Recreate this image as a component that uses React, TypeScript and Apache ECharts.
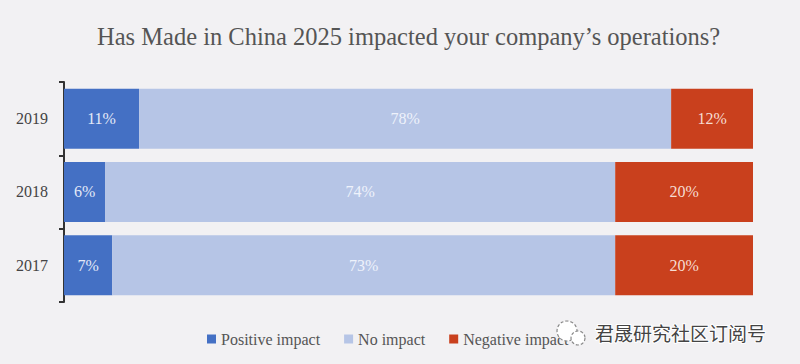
import React, { useEffect, useRef } from "react";
import * as echarts from "echarts";

const years = ["2019", "2018", "2017"];
const positive = [11, 6, 7];
const noImpact = [78, 74, 73];
const negative = [12, 20, 20];
const seriesNames = ["Positive impact", "No impact", "Negative impact"];
const titleText = "Has Made in China 2025 impacted your company\u2019s operations?";
const watermark = "君晟研究社区订阅号";

const COLORS = ["#4470C4", "#B6C5E6", "#C9401D"];
const LABEL_COLORS = ["#E3E9F7", "#EEF2FB", "#F6DDD2"];
const SERIF = "'Liberation Serif', 'DejaVu Serif', serif";

export default function App() {
  const ref = useRef<HTMLDivElement>(null);
  useEffect(() => {
    if (!ref.current) return;
    const chart = echarts.init(ref.current, null, { renderer: "svg" });
    const top0 = 82;
    const bandH = 73.3;
    const grids: any[] = [];
    const xAxes: any[] = [];
    const yAxes: any[] = [];
    const series: any[] = [];
    const rows = [positive, noImpact, negative];
    years.forEach((y, i) => {
      grids.push({ left: 64, width: 689, top: top0 + i * bandH, height: bandH });
      const total = positive[i] + noImpact[i] + negative[i];
      xAxes.push({ gridIndex: i, type: "value", min: 0, max: total, show: false });
      yAxes.push({
        gridIndex: i,
        type: "category",
        data: [y],
        axisLine: { show: true, lineStyle: { color: "#333", width: 2 } },
        axisTick: { show: true, length: 5, lineStyle: { color: "#333", width: 2 } },
        axisLabel: { margin: 16, fontSize: 16, color: "#444", fontFamily: SERIF },
      });
      rows.forEach((arr, k) => {
        series.push({
          name: seriesNames[k],
          type: "bar",
          stack: "s" + i,
          xAxisIndex: i,
          yAxisIndex: i,
          barWidth: 60,
          data: [arr[i]],
          itemStyle: { color: COLORS[k] },
          label: {
            show: true,
            position: "inside",
            formatter: "{c}%",
            color: LABEL_COLORS[k],
            fontSize: 16,
            fontFamily: SERIF,
          },
        });
      });
    });
    chart.setOption({
      animation: false,
      backgroundColor: "#F2F1F3",
      title: {
        text: titleText,
        left: 92,
        top: 19,
        textStyle: { fontSize: 24.5, fontWeight: "normal", color: "#555", fontFamily: SERIF },
      },
      legend: {
        data: seriesNames,
        left: 207,
        top: 331,
        padding: 0,
        z: 2,
        icon: "rect",
        itemWidth: 9,
        itemHeight: 9,
        itemGap: 24,
        textStyle: { fontSize: 16, color: "#555", fontFamily: SERIF },
      },
      grid: grids,
      xAxis: xAxes,
      yAxis: yAxes,
      series,
      graphic: {
        z: 100,
        elements: [
          {
            type: "circle",
            shape: { cx: 567, cy: 331, r: 10 },
            style: { fill: "#FFFFFF", stroke: "#888", lineWidth: 1.2, lineDash: [3, 2] },
            z: 100,
            z2: 100,
          },
          {
            type: "circle",
            shape: { cx: 578, cy: 338, r: 7 },
            style: { fill: "#FFFFFF", stroke: "#888", lineWidth: 1.2, lineDash: [3, 2] },
            z: 100,
            z2: 101,
          },
          {
            type: "text",
            x: 595,
            y: 332,
            style: {
              text: watermark,
              fontSize: 19,
              fontFamily: "'Noto Sans CJK SC', sans-serif",
              fill: "#444",
              stroke: "#FFFFFF",
              lineWidth: 2,
              textVerticalAlign: "middle",
            },
            z: 100,
            z2: 102,
          },
        ],
      },
    });
    return () => chart.dispose();
  }, []);
  return (
    <div
      ref={ref}
      style={{ position: "fixed", left: 0, top: 0, width: 800, height: 364 }}
    />
  );
}
